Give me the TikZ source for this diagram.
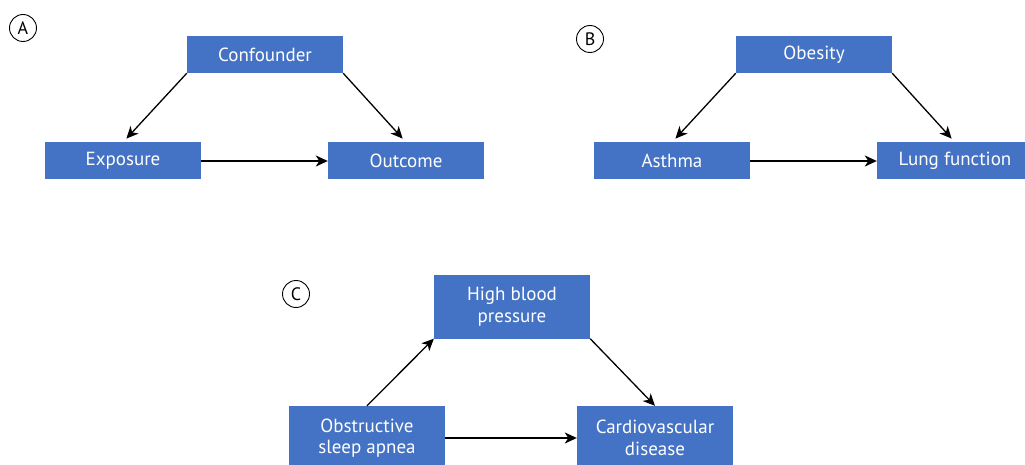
\documentclass[tikz,border=0pt]{standalone}
\usepackage{fontspec}
\setmainfont{PT Sans}
\usetikzlibrary{arrows.meta}
\definecolor{boxblue}{HTML}{4472C4}
\begin{document}
\begin{tikzpicture}[x=1pt,y=-1pt,
  box/.style={fill=boxblue, text=white, minimum width=156pt, minimum height=37pt, inner sep=0pt, font=\fontsize{19}{21.5}\selectfont, align=center},
  tallbox/.style={box, minimum height=64pt},
  lab/.style={draw, circle, line width=0.9pt, minimum size=27pt, inner sep=0pt, font=\fontsize{18}{20}\selectfont},
  arr/.style={-{Stealth[length=12pt,width=11pt,inset=3.5pt]}, line width=1.3pt}]
\clip (0,0) rectangle (1025,465);
\useasboundingbox (0,0) rectangle (1025,465);
% A
\node[lab] (la) at (23,28) {A};
\node[box] (conf) at (265,54.5) {Confounder};
\node[box] (expo) at (123,161) {Exposure};
\node[box] (outc) at (406,161) {Outcome};
\draw[arr, shorten >=5pt] (conf.south west) -- (expo.north);
\draw[arr, shorten >=5pt] (conf.south east) -- (outc.north);
\draw[arr] (expo.east) -- (outc.west);
% B
\node[lab] (lb) at (590,39) {B};
\node[box] (obes) at (814,54.5) {Obesity};
\node[box] (asth) at (672,161) {Asthma};
\node[box] (lung) at (955,161) {Lung function};
\draw[arr, shorten >=5pt] (obes.south west) -- (asth.north);
\draw[arr, shorten >=5pt] (obes.south east) -- (lung.north);
\draw[arr] (asth.east) -- (lung.west);
% C
\node[lab] (lc) at (296,294) {C};
\node[tallbox] (hbp) at (512,306.5) {High blood\\pressure};
\node[tallbox] (osa) at (367,438) {Obstructive\\sleep apnea};
\node[tallbox] (cvd) at (655,438) {Cardiovascular\\disease};
\draw[arr] (osa.north) -- (hbp.south west);
\draw[arr] (hbp.south east) -- (cvd.north);
\draw[arr] (osa.east) -- (cvd.west);
\end{tikzpicture}
\end{document}
